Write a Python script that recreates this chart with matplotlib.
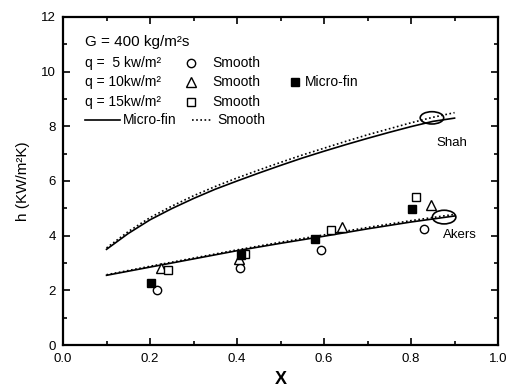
import numpy as np
import matplotlib.pyplot as plt
from matplotlib.patches import Ellipse
from matplotlib.ticker import MultipleLocator

plt.rcParams['font.family'] = ['Liberation Sans', 'DejaVu Sans']

# Shah correlation curves
shah_x = [0.1, 0.15, 0.2, 0.25, 0.3, 0.35, 0.4, 0.45, 0.5, 0.55, 0.6, 0.65, 0.7, 0.75, 0.8, 0.85, 0.9]
shah_micro = [3.5, 4.08, 4.58, 4.99, 5.36, 5.7, 6.0, 6.29, 6.57, 6.84, 7.09, 7.33, 7.56, 7.78, 7.99, 8.18, 8.3]
shah_smooth = [3.55, 4.15, 4.66, 5.08, 5.46, 5.8, 6.11, 6.4, 6.68, 6.95, 7.2, 7.45, 7.69, 7.91, 8.13, 8.33, 8.5]

# Akers correlation curves
akers_x = [0.1, 0.2, 0.3, 0.4, 0.5, 0.6, 0.7, 0.8, 0.9]
akers_micro = [2.55, 2.85, 3.15, 3.45, 3.72, 3.98, 4.25, 4.5, 4.72]
akers_smooth = [2.57, 2.88, 3.18, 3.48, 3.76, 4.03, 4.3, 4.55, 4.78]

# experimental data
q5_x = [0.216, 0.407, 0.593, 0.83]
q5_h = [2.03, 2.82, 3.48, 4.26]
q10_x = [0.225, 0.405, 0.641, 0.846]
q10_h = [2.8, 3.15, 4.3, 5.12]
q15_x = [0.241, 0.418, 0.616, 0.811]
q15_h = [2.76, 3.33, 4.22, 5.41]
mf_x = [0.202, 0.41, 0.579, 0.802]
mf_h = [2.27, 3.3, 3.86, 4.98]

fig = plt.figure(figsize=(5.14, 3.91), dpi=100)
ax = fig.add_axes([0.1226, 0.1176, 0.8464, 0.839])

dot = (0, (1, 1.5))
ax.plot(shah_x, shah_micro, color='black', lw=1.2)
ax.plot(shah_x, shah_smooth, color='black', lw=1.2, ls=dot)
ax.plot(akers_x, akers_micro, color='black', lw=1.2)
ax.plot(akers_x, akers_smooth, color='black', lw=1.2, ls=dot)

mk = dict(ls='none', mfc='white', mec='black', mew=1.0)
ax.plot(q5_x, q5_h, marker='o', ms=6, **mk)
ax.plot(q10_x, q10_h, marker='^', ms=7, **mk)
ax.plot(q15_x, q15_h, marker='s', ms=6, **mk)
ax.plot(mf_x, mf_h, marker='s', ls='none', ms=5.5, color='black')

ax.add_patch(Ellipse((0.848, 8.31), 0.054, 0.45, fill=False, lw=1.2, color='black'))
ax.add_patch(Ellipse((0.876, 4.68), 0.054, 0.5, fill=False, lw=1.2, color='black'))
ax.text(0.894, 7.4, 'Shah', fontsize=9.5, ha='center', va='center')
ax.text(0.913, 4.03, 'Akers', fontsize=9.5, ha='center', va='center')

# legend built as text
fs = 10
ax.text(0.05, 11.09, 'G = 400 kg/m²s', fontsize=11, va='center')
rows = [10.32, 9.62, 8.89]
labels = ['q =  5 kw/m²', 'q = 10kw/m²', 'q = 15kw/m²']
marks = ['o', '^', 's']
sizes = [6, 7, 6]
for r, lab, m, s in zip(rows, labels, marks, sizes):
    ax.text(0.05, r, lab, fontsize=fs, va='center')
    ax.plot([0.294], [r], marker=m, ms=s, **mk)
    ax.text(0.343, r, 'Smooth', fontsize=fs, va='center')
ax.plot([0.533], [rows[1]], marker='s', ls='none', ms=5.5, color='black')
ax.text(0.556, rows[1], 'Micro-fin', fontsize=fs, va='center')
ly = 8.23
ax.plot([0.05, 0.131], [ly, ly], color='black', lw=1.2)
ax.text(0.138, ly, 'Micro-fin', fontsize=fs, va='center')
ax.plot([0.297, 0.343], [ly, ly], color='black', lw=1.2, ls=dot)
ax.text(0.354, ly, 'Smooth', fontsize=fs, va='center')

ax.set_xlim(0.0, 1.0)
ax.set_ylim(0, 12)
ax.xaxis.set_major_locator(MultipleLocator(0.2))
ax.xaxis.set_minor_locator(MultipleLocator(0.1))
ax.yaxis.set_major_locator(MultipleLocator(2))
ax.yaxis.set_minor_locator(MultipleLocator(1))
ax.xaxis.set_major_formatter(plt.FormatStrFormatter('%.1f'))
ax.tick_params(which='both', direction='in', top=True, right=True, labelsize=9.5, width=1.2)
ax.tick_params(which='major', length=5)
ax.tick_params(which='minor', length=3)
ax.tick_params(axis='x', pad=6)
ax.tick_params(axis='y', pad=5)
for s in ax.spines.values():
    s.set_linewidth(1.6)

ax.set_xlabel('X', fontsize=13, fontweight='bold', labelpad=4)
ax.set_ylabel('h (KW/m²K)', fontsize=11, labelpad=8)

fig.savefig('out.png', dpi=100)
